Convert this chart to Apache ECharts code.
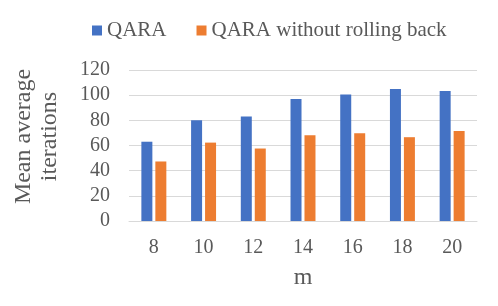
<!DOCTYPE html>
<html><head><meta charset="utf-8">
<script src="https://cdn.jsdelivr.net/npm/echarts@6/dist/echarts.min.js"></script>
<style>html,body{margin:0;padding:0;background:#fff}#c{width:498px;height:306px}</style>
</head><body><div id="c"></div>
<script>
const categories = ['8','10','12','14','16','18','20'];
const qara = [63, 80, 83, 97, 100.5, 105, 103.3];
const qaraNoRollback = [47.3, 62.3, 57.6, 68.2, 69.8, 66.6, 71.5];
const yTicks = [0, 20, 40, 60, 80, 100, 120];

const font = 'Liberation Serif';
const chart = echarts.init(document.getElementById('c'));
chart.setOption({
  animation: false,
  textStyle: { fontFamily: font },
  legend: {
    top: 15, left: 87,
    itemWidth: 10, itemHeight: 10, itemGap: 30,
    textStyle: { fontFamily: font, fontSize: 21, color: '#595959' },
    data: [{name:'QARA', icon:'rect'}, {name:'QARA without rolling back', icon:'rect'}]
  },
  grid: { left: 129, right: 21, top: 70, bottom: 85, outerBoundsMode: 'none', containLabel: false },
  xAxis: {
    type: 'category', data: categories,
    name: 'm', nameLocation: 'middle', nameGap: 45,
    nameTextStyle: { fontFamily: font, fontSize: 24, color: '#595959' },
    axisLine: { lineStyle: { color: '#d9d9d9' } },
    axisTick: { show: false },
    axisLabel: { fontFamily: font, fontSize: 20, color: '#595959', margin: 17 }
  },
  yAxis: {
    type: 'value', min: yTicks[0], max: yTicks[yTicks.length-1], interval: 20,
    name: 'Mean average\niterations', nameLocation: 'middle', nameGap: 66, nameRotate: 90,
    nameTextStyle: { fontFamily: font, fontSize: 24, color: '#595959', lineHeight: 26, padding: [0,0,0,18] },
    axisLine: { show: false }, axisTick: { show: false },
    splitLine: { lineStyle: { color: '#d9d9d9' } },
    axisLabel: { fontFamily: font, fontSize: 20, color: '#595959', margin: 19 }
  },
  series: [
    { name: 'QARA', type: 'bar', data: qara, barWidth: 11, barGap: '27%',
      itemStyle: { color: '#4472C4' } },
    { name: 'QARA without rolling back', type: 'bar', data: qaraNoRollback, barWidth: 11,
      itemStyle: { color: '#ED7D31' } }
  ]
});
</script></body></html>
